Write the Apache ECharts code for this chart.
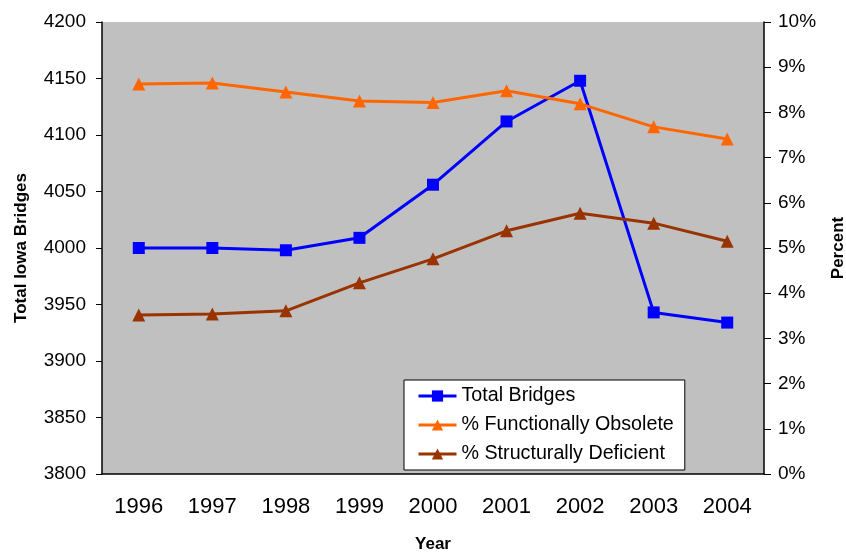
<!DOCTYPE html>
<html lang="en">
<head>
    <meta charset="UTF-8">
    <title>Iowa Bridges</title>
    <style>
        html, body { margin: 0; padding: 0; background: #fff; }
        #main { width: 846px; height: 552px; }
    </style>
    <script src="https://cdn.jsdelivr.net/npm/echarts@6/dist/echarts.min.js"></script>
</head>
<body>
<div id="main"></div>
<script type="text/javascript">
    // data
    var years = ['1996', '1997', '1998', '1999', '2000', '2001', '2002', '2003', '2004'];
    var totalBridges = [4000, 4000, 3998, 4009, 4056, 4112, 4148, 3943, 3934];
    var pctObsolete = [8.63, 8.65, 8.45, 8.25, 8.22, 8.48, 8.19, 7.68, 7.41];
    var pctDeficient = [3.52, 3.54, 3.61, 4.23, 4.76, 5.38, 5.77, 5.55, 5.15];

    var font = 'Liberation Sans, Arial, sans-serif';
    var myChart = echarts.init(document.getElementById('main'));

    var option = {
        animation: false,
        textStyle: { fontFamily: font, color: '#000' },
        grid: {
            left: 102, right: 82, top: 22, bottom: 78,
            outerBoundsMode: 'none',
            containLabel: false,
            show: true, backgroundColor: '#C0C0C0', borderWidth: 0
        },
        legend: {
            orient: 'vertical',
            left: 404, top: 380,
            backgroundColor: '#fff',
            borderColor: '#000', borderWidth: 1, borderRadius: 0,
            padding: [6, 11, 6, 13],
            itemWidth: 38, itemHeight: 14, itemGap: 9,
            lineStyle: { width: 3 },
            textStyle: { fontSize: 19.7, color: '#000', fontFamily: font },
            data: ['Total Bridges', '% Functionally Obsolete', '% Structurally Deficient']
        },
        xAxis: {
            type: 'category',
            data: years,
            name: 'Year',
            nameLocation: 'middle',
            nameGap: 62,
            nameTextStyle: { fontWeight: 'bold', fontSize: 17, color: '#000' },
            axisLine: { lineStyle: { color: '#000', width: 1.5 } },
            axisTick: { length: 8, lineStyle: { color: '#000' } },
            axisLabel: { fontSize: 22, color: '#000', margin: 22 }
        },
        yAxis: [{
            type: 'value',
            min: 3800, max: 4200, interval: 50,
            name: 'Total Iowa Bridges',
            nameLocation: 'middle',
            nameRotate: 90,
            nameGap: 72,
            nameTextStyle: { fontWeight: 'bold', fontSize: 17, color: '#000' },
            axisLine: { show: true, lineStyle: { color: '#000', width: 1.5 } },
            axisTick: { show: true, length: 6, lineStyle: { color: '#000' } },
            axisLabel: {
                fontSize: 19, color: '#000', margin: 16,
                formatter: function (v) { return String(v); }
            },
            splitLine: { show: false }
        }, {
            type: 'value',
            position: 'right',
            min: 0, max: 10, interval: 1,
            name: 'Percent',
            nameLocation: 'middle',
            nameRotate: 90,
            nameGap: 66,
            nameTextStyle: { fontWeight: 'bold', fontSize: 17, color: '#000' },
            axisLine: { show: true, lineStyle: { color: '#000', width: 1.5 } },
            axisTick: { show: true, length: 7, lineStyle: { color: '#000' } },
            axisLabel: { fontSize: 19, color: '#000', margin: 14, formatter: '{value}%' },
            splitLine: { show: false }
        }],
        series: [{
            name: 'Total Bridges',
            type: 'line',
            yAxisIndex: 0,
            data: totalBridges,
            symbol: 'rect', symbolSize: 12,
            lineStyle: { color: '#0000FF', width: 3 },
            itemStyle: { color: '#0000FF' }
        }, {
            name: '% Functionally Obsolete',
            type: 'line',
            yAxisIndex: 1,
            data: pctObsolete,
            symbol: 'triangle', symbolSize: 13,
            lineStyle: { color: '#FF6600', width: 3 },
            itemStyle: { color: '#FF6600' }
        }, {
            name: '% Structurally Deficient',
            type: 'line',
            yAxisIndex: 1,
            data: pctDeficient,
            symbol: 'triangle', symbolSize: 13,
            lineStyle: { color: '#993300', width: 3 },
            itemStyle: { color: '#993300' }
        }]
    };

    myChart.setOption(option);
</script>
</body>
</html>
